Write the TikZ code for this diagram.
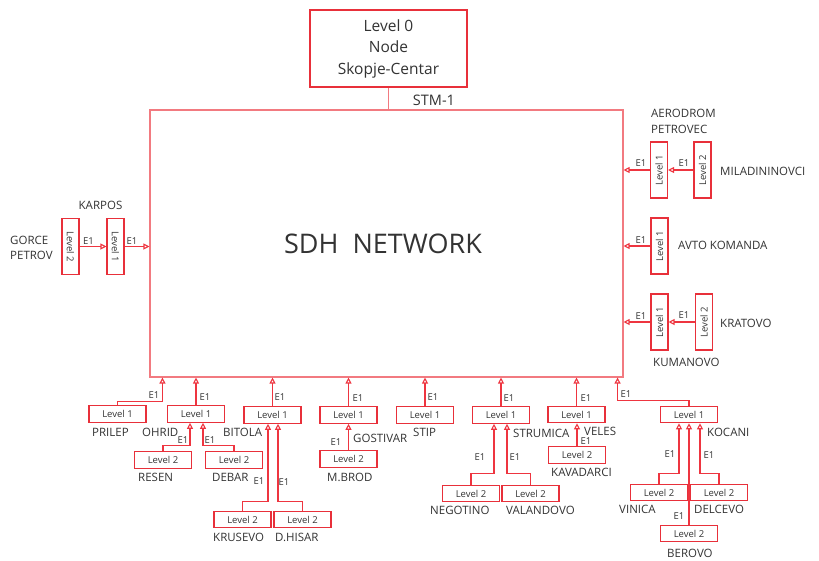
\documentclass[tikz,border=0pt]{standalone}
\usepackage{fontspec}
\setmainfont{Open Sans}
\usepackage{graphicx}
\usetikzlibrary{arrows.meta}
\definecolor{boxred}{HTML}{E8303A}
\definecolor{linered}{HTML}{EE3540}
\definecolor{pinkred}{HTML}{F27A80}
\definecolor{txt}{HTML}{333333}
\begin{document}
\begin{tikzpicture}[x=1pt,y=-1pt,
  hbox/.style={draw=boxred,line width=1.1pt,minimum width=57pt,minimum height=16.5pt,inner sep=0pt,font=\fontsize{9.5}{11}\selectfont,text=txt},
  vbox/.style={draw=boxred,line width=1.1pt,minimum width=17pt,minimum height=56pt,inner sep=0pt,font=\fontsize{9.5}{11}\selectfont,text=txt},
  lbl/.style={font=\fontsize{11.5}{15.5}\selectfont,text=txt,inner sep=0pt,anchor=west,align=left},
  eone/.style={font=\fontsize{9.5}{11}\selectfont,text=txt,inner sep=0pt},
  conn/.style={draw=linered,line width=1.1pt,-{Triangle[open,length=6pt,width=6pt]}},
]
\useasboundingbox (0,0) rectangle (819,560);

% main network and level 0
\node[draw=pinkred,line width=1.1pt,minimum width=473pt,minimum height=267pt,inner sep=0pt] (sdh) at (386.5,243.5) {};
\node[font=\fontsize{27}{30}\selectfont,text=txt] (sdhtxt) at (383,244) {SDH\ \ NETWORK};
\node[draw=boxred,line width=1.1pt,minimum width=157pt,minimum height=77pt,inner sep=0pt,align=center,font=\fontsize{15.5}{21.5}\selectfont,text=txt] (top) at (388.5,48.5) {Level 0\\Node\\Skopje-Centar};
\draw[draw=pinkred,line width=1.1pt] (top.south) -- (top.south |- sdh.north);
\node[font=\fontsize{14.5}{15}\selectfont,text=txt,inner sep=0pt] (stm) at (434,100) {STM-1};

% left side
\node[vbox] (gp2) at (70.5,246.5) {\rotatebox{-90}{Level 2}};
\node[vbox] (karpos1) at (115.5,246.5) {\rotatebox{-90}{Level 1}};
\node[lbl] (gplbl) at (10,248) {GORCE\\PETROV};
\node[lbl,anchor=center] (karposlbl) at (100.5,205) {KARPOS};
\draw[conn] (gp2.east) -- (karpos1.west);
\draw[conn] (karpos1.east) -- (karpos1.east -| sdh.west);
\node[eone] (e1a) at (88.5,241.5) {E1};
\node[eone] (e1b) at (132,241.5) {E1};

% right side
\node[vbox] (ap1) at (659,170) {\rotatebox{90}{Level 1}};
\node[vbox] (mil2) at (702.5,170) {\rotatebox{90}{Level 2}};
\node[lbl] (aplbl) at (651,121.5) {AERODROM\\PETROVEC};
\node[lbl] (millbl) at (720,171) {MILADININOVCI};
\draw[conn] (mil2.west) -- (ap1.east);
\draw[conn] (ap1.west) -- (ap1.west -| sdh.east);
\node[eone] (e1c) at (641,163) {E1};
\node[eone] (e1d) at (684,163) {E1};

\node[vbox] (avto1) at (659.5,246) {\rotatebox{90}{Level 1}};
\node[lbl] (avtolbl) at (678,245) {AVTO KOMANDA};
\draw[conn] (avto1.west) -- (avto1.west -| sdh.east);
\node[eone] (e1e) at (641,240) {E1};

\node[vbox] (kum1) at (659.5,322) {\rotatebox{90}{Level 1}};
\node[vbox] (kra2) at (704,322) {\rotatebox{90}{Level 2}};
\node[lbl] (kralbl) at (720,323) {KRATOVO};
\node[lbl] (kumlbl) at (653,362) {KUMANOVO};
\draw[conn] (kra2.west) -- (kum1.east);
\draw[conn] (kum1.west) -- (kum1.west -| sdh.east);
\node[eone] (e1f) at (641,316) {E1};
\node[eone] (e1g) at (684,315) {E1};

% arrow targets on the network bottom
\path (sdh.south west) ++(13,0) coordinate (tprilep);
\path (sdh.south east) ++(-6,0) coordinate (tkocani);

% bottom boxes
\node[hbox] (prilep) at (117.5,414) {Level 1};
\node[hbox] (ohrid) at (196,414) {Level 1};
\node[hbox] (resen) at (163,460) {Level 2};
\node[hbox] (debar) at (234,460) {Level 2};
\node[hbox] (bitola) at (272.5,415) {Level 1};
\node[hbox] (krusevo) at (242.5,519.5) {Level 2};
\node[hbox] (dhisar) at (302.5,519.5) {Level 2};
\node[hbox] (gostivar) at (348.5,415) {Level 1};
\node[hbox] (mbrod) at (348.5,459) {Level 2};
\node[hbox] (stip) at (425,415) {Level 1};
\node[hbox] (strumica) at (501,415) {Level 1};
\node[hbox] (negotino) at (471,493.5) {Level 2};
\node[hbox] (valandovo) at (530.5,493.5) {Level 2};
\node[hbox] (veles) at (576.5,414.5) {Level 1};
\node[hbox] (kavadarci) at (577,455) {Level 2};
\node[hbox] (kocani) at (689,414.5) {Level 1};
\node[hbox] (vinica) at (659,492.5) {Level 2};
\node[hbox] (delcevo) at (719,492.5) {Level 2};
\node[hbox] (berovo) at (689,533.5) {Level 2};

% bottom connectors
\draw[conn] (prilep.north) -- ++(0,-4) -| (tprilep);
\draw[conn] (ohrid.north) -- (ohrid.north |- sdh.south);
\draw[conn] (resen.north) -- ++(0,-6) -| ([xshift=-6pt]ohrid.south);
\draw[conn] (debar.north) -- ++(0,-6) -| ([xshift=7pt]ohrid.south);
\draw[conn] (bitola.north) -- (bitola.north |- sdh.south);
\draw[conn] (krusevo.north) -- ++(0,-9) -| ([xshift=-4.5pt]bitola.south);
\draw[conn] (dhisar.north) -- ++(0,-9) -| ([xshift=5.5pt]bitola.south);
\draw[conn] (gostivar.north) -- (gostivar.north |- sdh.south);
\draw[conn] (mbrod.north) -- (gostivar.south);
\draw[conn] (stip.north) -- (stip.north |- sdh.south);
\draw[conn] (strumica.north) -- (strumica.north |- sdh.south);
\draw[conn] (negotino.north) -- ++(0,-11) -| ([xshift=-7pt]strumica.south);
\draw[conn] (valandovo.north) -- ++(0,-11) -| ([xshift=6pt]strumica.south);
\draw[conn] (veles.north) -- (veles.north |- sdh.south);
\draw[conn] (kavadarci.north) -- (kavadarci.north |- veles.south);
\draw[conn] (kocani.north) -- ++(0,-5) -| (tkocani);
\draw[conn] (vinica.north) -- ++(0,-10) -| ([xshift=-10pt]kocani.south);
\draw[conn] (delcevo.north) -- ++(0,-10) -| ([xshift=11pt]kocani.south);
\draw[conn] (berovo.north) -- (kocani.south);

% E1 labels bottom
\node[eone] at (154,395) {E1};
\node[eone] at (205,397) {E1};
\node[eone] at (183,440) {E1};
\node[eone] at (210,440) {E1};
\node[eone] at (280,397) {E1};
\node[eone] at (259,481) {E1};
\node[eone] at (284,482) {E1};
\node[eone] at (358,398) {E1};
\node[eone] at (336,442) {E1};
\node[eone] at (433,397) {E1};
\node[eone] at (509,398) {E1};
\node[eone] at (480,457) {E1};
\node[eone] at (515,457) {E1};
\node[eone] at (586,398) {E1};
\node[eone] at (586,441) {E1};
\node[eone] at (626,394) {E1};
\node[eone] at (670,454) {E1};
\node[eone] at (709,455) {E1};
\node[eone] at (679,516) {E1};

% station labels bottom
\node[lbl] at (92,432) {PRILEP};
\node[lbl] at (142,432) {OHRID};
\node[lbl] at (223,432) {BITOLA};
\node[lbl] at (138,477) {RESEN};
\node[lbl] at (212,477) {DEBAR};
\node[lbl] at (213,537) {KRUSEVO};
\node[lbl] at (275,537) {D.HISAR};
\node[lbl] at (353,438) {GOSTIVAR};
\node[lbl] at (327,477) {M.BROD};
\node[lbl] at (413,432) {STIP};
\node[lbl] at (513,433) {STRUMICA};
\node[lbl] at (430,510) {NEGOTINO};
\node[lbl] at (506,510) {VALANDOVO};
\node[lbl] at (584,431) {VELES};
\node[lbl] at (551,472) {KAVADARCI};
\node[lbl] at (707,432) {KOCANI};
\node[lbl] at (619,509) {VINICA};
\node[lbl] at (694,509) {DELCEVO};
\node[lbl] at (667,553) {BEROVO};
\end{tikzpicture}
\end{document}
